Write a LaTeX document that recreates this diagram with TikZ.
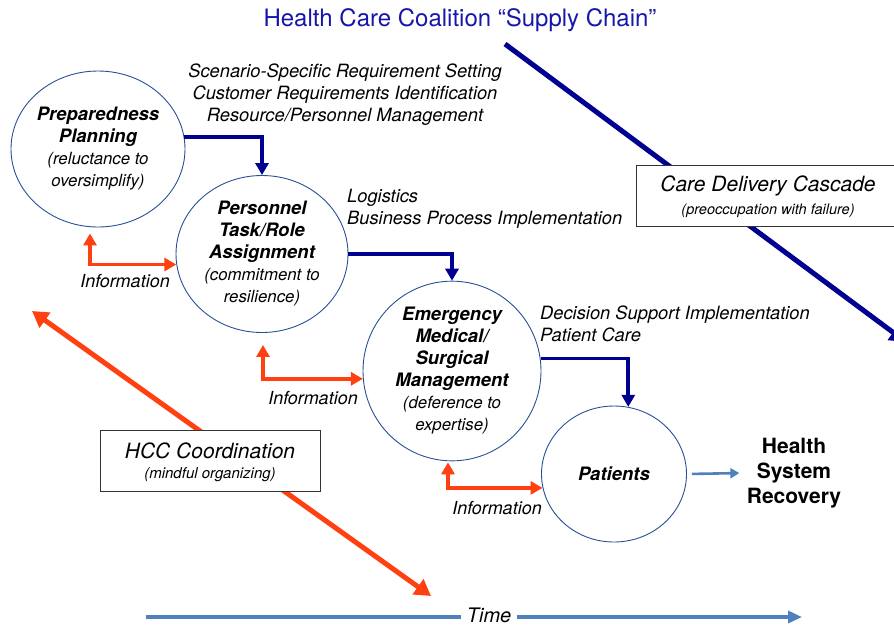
\documentclass[tikz,border=0pt]{standalone}
\usepackage{fontspec}
\setmainfont{TeX Gyre Heros}
\usetikzlibrary{arrows.meta,shapes.geometric,calc}
\definecolor{navy}{RGB}{0,0,145}
\definecolor{flame}{RGB}{255,64,16}
\definecolor{steel}{RGB}{79,129,189}
\definecolor{ring}{RGB}{40,80,150}
\definecolor{titleblue}{RGB}{22,22,170}
% italic note under a stage name
\newcommand{\stagenote}[1]{{\mdseries\itshape\fontsize{16.8}{22}\selectfont #1}}
\begin{document}
\begin{tikzpicture}[x=1pt,y=-1pt,
  stage/.style={ellipse, draw=ring, line width=0.9pt, inner sep=0pt, align=center,
    font=\fontsize{18.5}{22}\selectfont\bfseries\itshape},
  lbl/.style={inner sep=0pt, font=\fontsize{18.3}{22}\selectfont\itshape},
  infolbl/.style={inner sep=0pt, font=\fontsize{18}{22}\selectfont\itshape},
  flow/.style={draw=navy, line width=3.6pt, -{Triangle[length=12pt,width=13pt]}},
  feedback/.style={draw=flame, line width=3.6pt, {Triangle[length=12pt,width=13pt]}-{Triangle[length=12pt,width=13pt]}},
  trend/.style={line width=5pt},
  framebox/.style={draw=black!80, line width=0.9pt, fill=white, align=center, inner sep=0pt},
]
\useasboundingbox (0,0) rectangle (894,625);
\clip (0,0) rectangle (894,625);

% title
\node[font=\fontsize{24}{28}\selectfont, text=titleblue] (title) at (460,20) {Health Care Coalition “Supply Chain”};

% long diagonal trends
\coordinate (cdcA) at (505,44);
\coordinate (cdcB) at (906,342);
\draw[trend, draw=navy, -{Triangle[length=16pt,width=18pt]}] (cdcA) -- (cdcB);
\coordinate (hccA) at (32,311);
\coordinate (hccB) at (431,596);
\draw[trend, draw=flame, {Triangle[length=16pt,width=18pt]}-{Triangle[length=16pt,width=18pt]}] (hccA) -- (hccB);

% framed captions on the trends
\node[framebox, minimum width=264pt, minimum height=61pt] (cdc) at (768,196) {};
\node[font=\fontsize{21}{24}\selectfont\itshape] at (768,186) {Care Delivery Cascade};
\node[font=\fontsize{14.5}{18}\selectfont\itshape] at (768,211) {(preoccupation with failure)};
\node[framebox, minimum width=220pt, minimum height=61pt] (hcc) at (210,461) {};
\node[font=\fontsize{21}{24}\selectfont\itshape] at (210,451) {HCC Coordination};
\node[font=\fontsize{15}{18}\selectfont\itshape] at (210,475) {(mindful organizing)};

% stages
\node[stage, minimum width=174pt, minimum height=156pt] (pp) at (98,149)
  {Preparedness\\Planning\\\stagenote{(reluctance to}\\\stagenote{oversimplify)}};
\node[stage, minimum width=172pt, minimum height=157pt] (pt) at (262,254)
  {Personnel\\Task/Role\\Assignment\\\stagenote{(commitment to}\\\stagenote{resilience)}};
\node[stage, minimum width=178pt, minimum height=165pt] (em) at (452,371)
  {Emergency\\Medical/\\Surgical\\Management\\\stagenote{(deference to}\\\stagenote{expertise)}};
\node[stage, minimum width=145pt, minimum height=136pt] (pa) at (614,474) {Patients};

\node[font=\fontsize{21}{25}\selectfont\bfseries, align=center] (hsr) at (794,473)
  {Health\\System\\Recovery};

% activity labels
\node[lbl, align=center] (req) at (345,95)
  {Scenario-Specific Requirement Setting\\Customer Requirements Identification\\Resource/Personnel Management};
\node[lbl, align=left, anchor=west] (logi) at (347,209)
  {Logistics\\Business Process Implementation};
\node[lbl, align=left, anchor=west] (dsi) at (540,324)
  {Decision Support Implementation\\Patient Care};

% forward flow between stages
\draw[flow] (pp.8) -| (pt.north);
\draw[flow] (pt.east) -| (em.north);
\draw[flow] (em.8) -| (pa.78);

% information feedback between stages
\draw[feedback] ([shift={(-8,6)}]pp.south) |- (pt.187);
\node[infolbl] (info1) at (125,281) {Information};
\draw[feedback] ([shift={(1,12)}]pt.south) |- (em.185);
\node[infolbl] (info2) at (313,398) {Information};
\draw[feedback] ([shift={(-4,1)}]em.south) |- (pa.191);
\node[infolbl] (info3) at (497,508) {Information};

% toward recovery
\draw[draw=steel, line width=2.6pt, -{Triangle[length=9pt,width=10pt]}, shorten <=5pt, shorten >=4pt] (pa.east) -- (hsr.west);

% time axis
\coordinate (t0) at (146,617);
\coordinate (t1) at (802,617);
\draw[draw=steel, line width=3.6pt, -{Triangle[length=14pt,width=12pt]}] (t0) -- (t1)
  node[pos=0.523, fill=white, inner xsep=6pt, inner ysep=0pt, yshift=2pt, font=\fontsize{20}{23}\selectfont\itshape, text=black] (time) {Time};
\end{tikzpicture}
\end{document}
